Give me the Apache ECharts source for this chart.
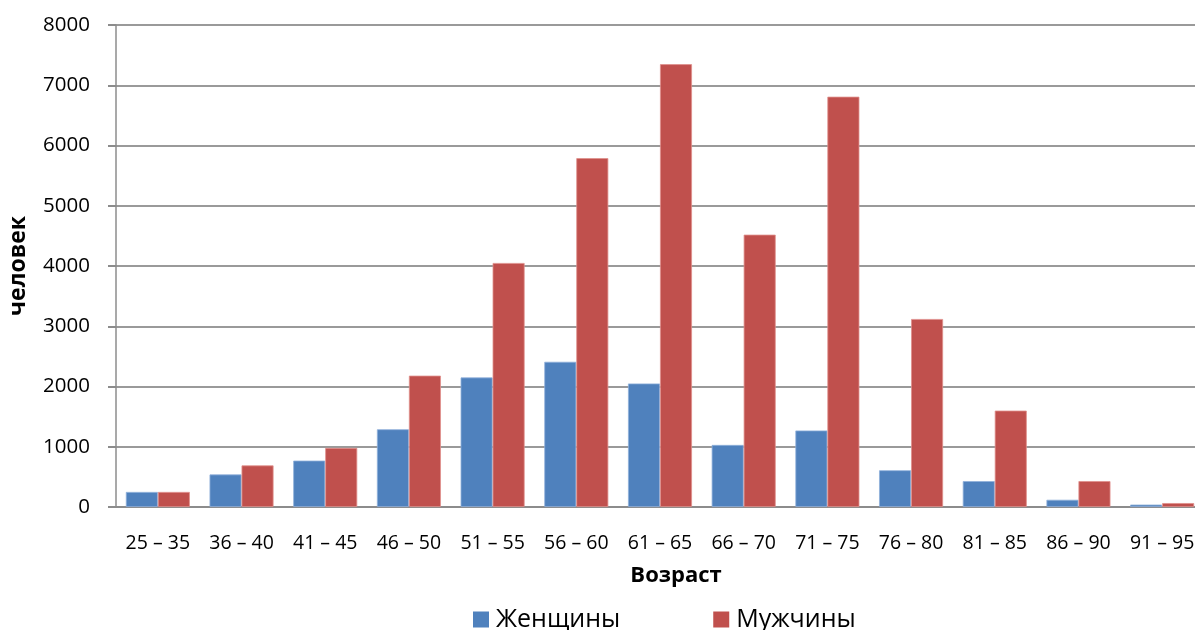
<!DOCTYPE html>
<html>
<head>
<meta charset="utf-8">
<title>Возраст</title>
<script src="https://cdn.jsdelivr.net/npm/echarts@6/dist/echarts.min.js"></script>
<style>
  html, body { margin: 0; padding: 0; background: #fff; }
  #chart { width: 1195px; height: 630px; }
</style>
</head>
<body>
<div id="chart"></div>
<script>
// Age groups
const categories = ['25 – 35', '36 – 40', '41 – 45', '46 – 50', '51 – 55', '56 – 60', '61 – 65',
                    '66 – 70', '71 – 75', '76 – 80', '81 – 85', '86 – 90', '91 – 95'];
// Number of people per age group
const women = [250, 540, 770, 1290, 2150, 2410, 2050, 1030, 1270, 610, 430, 120, 40];
const men   = [250, 690, 980, 2180, 4050, 5790, 7350, 4520, 6810, 3120, 1600, 430, 65];
const yTicks = { min: 0, max: 8000, interval: 1000 };

const FONT = '"Open Sans", "Noto Sans", sans-serif';

const chart = echarts.init(document.getElementById('chart'), null, { renderer: 'canvas' });

chart.setOption({
  animation: false,
  backgroundColor: '#ffffff',
  // the plot area runs slightly past the right edge of the canvas
  grid: { left: 116, top: 25, width: 1088, height: 482, containLabel: false, outerBoundsMode: 'none' },
  legend: {
    data: ['Женщины', 'Мужчины'],
    left: 468,
    top: 602,
    itemWidth: 16,
    itemHeight: 16,
    itemGap: 93,
    icon: 'rect',
    itemStyle: { borderWidth: 0 },
    textStyle: { fontFamily: FONT, fontSize: 25, color: '#000', padding: [0, 0, 0, 2] }
  },
  xAxis: {
    type: 'category',
    data: categories,
    name: 'Возраст',
    nameLocation: 'middle',
    nameGap: 58,
    nameTextStyle: { fontFamily: FONT, fontSize: 22, fontWeight: 'bold', color: '#000', padding: [0, 0, 0, 32] },
    axisLine: { lineStyle: { color: '#8c8c8c', width: 2 } },
    axisTick: { show: false },
    axisLabel: { fontFamily: FONT, fontSize: 19.5, color: '#000', margin: 26, interval: 0 }
  },
  yAxis: {
    type: 'value',
    min: yTicks.min,
    max: yTicks.max,
    interval: yTicks.interval,
    name: 'человек',
    nameLocation: 'middle',
    nameGap: 86,
    nameTextStyle: { fontFamily: FONT, fontSize: 23, fontWeight: 'bold', color: '#000' },
    axisLine: { show: true, lineStyle: { color: '#8c8c8c', width: 1.5 } },
    axisTick: { show: true, inside: false, length: 8, lineStyle: { color: '#8c8c8c', width: 2 } },
    axisLabel: { fontFamily: FONT, fontSize: 20.5, color: '#000', margin: 26, formatter: v => String(v) },
    splitLine: { lineStyle: { color: '#9a9a9a', width: 2 } }
  },
  series: [
    {
      name: 'Женщины',
      type: 'bar',
      data: women,
      barWidth: 32,
      barGap: '0%',
      itemStyle: { color: '#4F81BD', borderColor: '#8fb0da', borderWidth: 0.8 }
    },
    {
      name: 'Мужчины',
      type: 'bar',
      data: men,
      barWidth: 32,
      barGap: '0%',
      itemStyle: { color: '#C0504D', borderColor: '#e08f8c', borderWidth: 0.8 }
    }
  ]
});
</script>
</body>
</html>
